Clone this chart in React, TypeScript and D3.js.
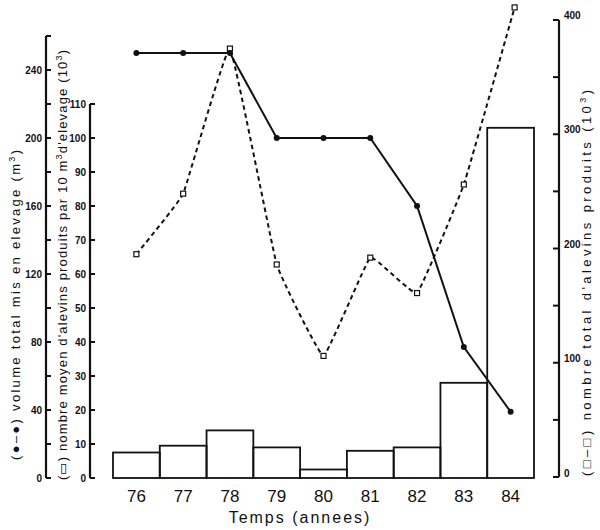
import React from "react";
import * as d3 from "d3";

const years = ["76", "77", "78", "79", "80", "81", "82", "83", "84"];
const barValues = [7.5, 9.5, 14, 9, 2.5, 8, 9, 28, 103];
const volumeValues = [250, 250, 250, 200, 200, 200, 160, 77, 39];
const totalValues = [195, 248, 375, 186, 106, 192, 161, 256, 411];

const volTicks = d3.range(0, 261, 20);
const volLabels = [0, 40, 80, 120, 160, 200, 240];
const barTicks = d3.range(0, 111, 10);
const totTicks = d3.range(0, 401, 50);
const totLabels = [0, 100, 200, 300, 400];

const W = 600;
const H = 530;

export default function App() {
  const x = d3.scaleBand<string>().domain(years).range([113, 534]).padding(0);
  const yVol = d3.scaleLinear().domain([0, 240]).range([478, 70]);
  const yBar = d3.scaleLinear().domain([0, 110]).range([478, 104]);
  const yTot = d3.scaleLinear().domain([0, 400]).range([477, 20]);
  const cx = (i: number) => (x(years[i]) as number) + x.bandwidth() / 2;

  const volLine = d3
    .line<number>()
    .x((_, i) => cx(i))
    .y((d) => yVol(d));
  const totLine = d3
    .line<number>()
    .x((_, i) => cx(i) + (i === 8 ? 4 : 0))
    .y((d) => yTot(d))
    .curve(d3.curveCardinal.tension(0.75));

  const ink = "#111";
  const tickFont = {
    fontFamily: "Liberation Sans, Arial, sans-serif",
    fontSize: 10,
    fontWeight: 700 as const,
    fill: ink,
  };
  const titleFont = {
    fontFamily: "Liberation Sans, Arial, sans-serif",
    fontSize: 13,
    fill: ink,
  };

  return (
    <div style={{ position: "absolute", left: 0, top: 0 }}>
      <svg width={W} height={H} style={{ display: "block", background: "#fff" }}>
        {/* bars */}
        {barValues.map((v, i) => (
          <rect
            key={"b" + i}
            x={x(years[i])}
            y={yBar(v)}
            width={x.bandwidth()}
            height={yBar(0) - yBar(v)}
            fill="none"
            stroke={ink}
            strokeWidth={1.8}
          />
        ))}

        {/* axis 1: volume */}
        <line x1={46} x2={46} y1={yVol(0)} y2={yVol(260)} stroke={ink} strokeWidth={2.2} />
        {volTicks.map((t) => (
          <line key={"vt" + t} x1={46} x2={51} y1={yVol(t)} y2={yVol(t)} stroke={ink} strokeWidth={2} />
        ))}
        {volLabels.map((t) => (
          <text key={"vl" + t} x={42} y={yVol(t) + 3.5} textAnchor="end" {...tickFont}>
            {t}
          </text>
        ))}

        {/* axis 2: bars */}
        <line x1={90} x2={90} y1={yBar(0)} y2={yBar(110)} stroke={ink} strokeWidth={2.2} />
        {barTicks.map((t) => (
          <line key={"bt" + t} x1={90} x2={95} y1={yBar(t)} y2={yBar(t)} stroke={ink} strokeWidth={2} />
        ))}
        {barTicks.map((t) => (
          <text key={"bl" + t} x={86} y={yBar(t) + 3.5} textAnchor="end" {...tickFont}>
            {t}
          </text>
        ))}

        {/* right axis: total */}
        <line x1={559} x2={559} y1={yTot(0)} y2={yTot(400)} stroke={ink} strokeWidth={2.2} />
        {totTicks.map((t) => (
          <line key={"tt" + t} x1={553} x2={559} y1={yTot(t)} y2={yTot(t)} stroke={ink} strokeWidth={2} />
        ))}
        {totLabels.map((t) => (
          <text key={"tl" + t} x={564} y={yTot(t) + (t === 0 ? 0 : -1)} textAnchor="start" {...tickFont}>
            {t}
          </text>
        ))}

        {/* total line (dashed) */}
        <path d={totLine(totalValues) || ""} fill="none" stroke={ink} strokeWidth={2} strokeDasharray="4.5,3.5" />
        {totalValues.map((v, i) => (
          <rect
            key={"ts" + i}
            x={cx(i) + (i === 8 ? 4 : 0) - 2.5}
            y={yTot(v) - 2.5}
            width={5}
            height={5}
            fill="#fff"
            stroke={ink}
            strokeWidth={1.2}
          />
        ))}

        {/* volume line (solid) */}
        <path d={volLine(volumeValues) || ""} fill="none" stroke={ink} strokeWidth={2} />
        {volumeValues.map((v, i) => (
          <circle key={"vc" + i} cx={cx(i)} cy={yVol(v)} r={3} fill={ink} />
        ))}

        {/* x tick labels */}
        {years.map((yr) => (
          <text
            key={"x" + yr}
            x={(x(yr) as number) + x.bandwidth() / 2}
            y={502}
            textAnchor="middle"
            fontFamily="Liberation Sans, Arial, sans-serif"
            fontSize={17}
            fill={ink}
          >
            {yr}
          </text>
        ))}
        <text
          x={300}
          y={523}
          textAnchor="middle"
          fontFamily="Liberation Sans, Arial, sans-serif"
          fontSize={16}
          letterSpacing={2}
          fill={ink}
        >
          Temps (annees)
        </text>

        {/* axis titles */}
        <text
          transform="translate(20,460) rotate(-90)"
          textAnchor="start"
          textLength={310}
          lengthAdjust="spacing"
          {...titleFont}
        >
          (●–●) volume total mis en elevage (m
          <tspan dy={-5} fontSize={9}>3</tspan>
          <tspan dy={5}>)</tspan>
        </text>
        <text
          transform="translate(67,480) rotate(-90)"
          textAnchor="start"
          textLength={430}
          lengthAdjust="spacing"
          {...titleFont}
        >
          (▭) nombre moyen d'alevins produits par 10 m
          <tspan dy={-5} fontSize={9}>3</tspan>
          <tspan dy={5}>d'elevage (10</tspan>
          <tspan dy={-5} fontSize={9}>3</tspan>
          <tspan dy={5}>)</tspan>
        </text>
        <text
          transform="translate(591,476) rotate(-90)"
          textAnchor="start"
          textLength={386}
          lengthAdjust="spacing"
          {...titleFont}
        >
          (□–□) nombre   total   d'alevins   produits   (10
          <tspan dy={-5} fontSize={9}>3</tspan>
          <tspan dy={5}>)</tspan>
        </text>
      </svg>
    </div>
  );
}
